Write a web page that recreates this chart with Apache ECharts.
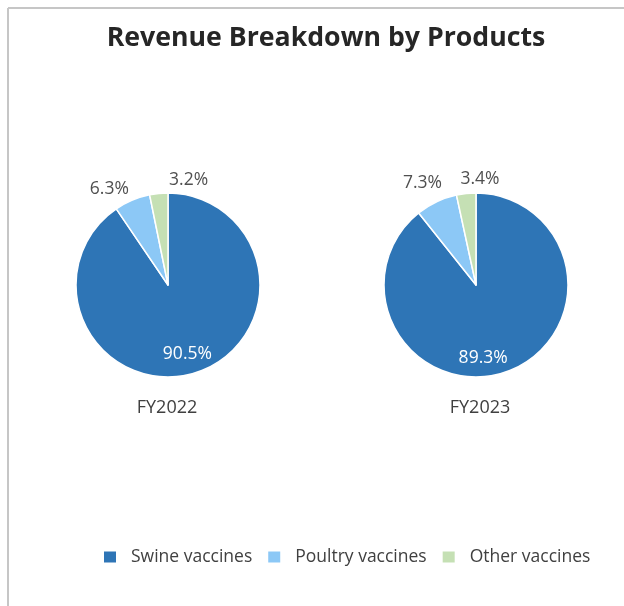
<!DOCTYPE html>
<html>
<head>
<meta charset="utf-8">
<script src="https://cdn.jsdelivr.net/npm/echarts@6/dist/echarts.min.js"></script>
<style>
  html, body { margin: 0; padding: 0; background: #fff; }
  #chart { width: 624px; height: 606px; }
</style>
</head>
<body>
<div id="chart"></div>
<script>
const products = ['Swine vaccines', 'Poultry vaccines', 'Other vaccines'];
const years = ['FY2022', 'FY2023'];
const share2022 = [90.5, 6.3, 3.2];
const share2023 = [89.3, 7.3, 3.4];
const colors = ['#2E75B6', '#8CC8F6', '#C5E0B4'];

const font = '"Open Sans", "Noto Sans", sans-serif';
const centers = [[168, 285], [476, 285]];
const captionX = [162, 475];
const radius = 92;

// label nudges per slice: the big slice carries its label inside in white
const labelOffsets = [
  [[5, 22], [4, -6], [55, -7]],
  [[-9, 27], [13, -13], [39, -9]]
];

function buildData(values, s) {
  return values.map((v, i) => ({
    name: products[i],
    value: v,
    label: i === 0
      ? { position: 'inside', color: '#ffffff', offset: labelOffsets[s][i] }
      : { position: 'outside', color: '#505050', offset: labelOffsets[s][i] }
  }));
}

const seriesValues = [share2022, share2023];

const option = {
  animation: false,
  color: colors,
  title: [
    {
      text: 'Revenue Breakdown by Products',
      left: 321, top: 20, textAlign: 'center',
      textStyle: { fontFamily: font, fontSize: 26.7, fontWeight: 'bold', color: '#262626' }
    },
    ...years.map((y, s) => ({
      text: y,
      left: captionX[s], top: 394, textAlign: 'center',
      textStyle: { fontFamily: font, fontSize: 18, fontWeight: 'normal', color: '#404040' }
    }))
  ],
  legend: {
    top: 543,
    left: 97,
    icon: 'rect',
    itemWidth: 14,
    itemHeight: 13,
    itemGap: 14,
    textStyle: { fontFamily: font, fontSize: 17.5, color: '#404040', padding: [0, 0, 0, 9] },
    data: products
  },
  graphic: [
    { type: 'line', shape: { x1: 8, y1: 8, x2: 624, y2: 8 }, style: { stroke: '#c6c6c6', lineWidth: 2 } },
    { type: 'line', shape: { x1: 8, y1: 8, x2: 8, y2: 606 }, style: { stroke: '#c6c6c6', lineWidth: 2 } }
  ],
  series: seriesValues.map((vals, s) => ({
    type: 'pie',
    name: years[s],
    center: centers[s],
    radius: radius,
    startAngle: 90,
    clockwise: true,
    avoidLabelOverlap: false,
    itemStyle: { borderColor: '#ffffff', borderWidth: 1.5 },
    label: {
      show: true,
      fontFamily: font,
      fontSize: 17.5,
      formatter: p => p.value.toFixed(1) + '%'
    },
    labelLine: { show: false, length: 6, length2: 0 },
    emphasis: { disabled: true },
    data: buildData(vals, s)
  }))
};

echarts.init(document.getElementById('chart')).setOption(option);
</script>
</body>
</html>
